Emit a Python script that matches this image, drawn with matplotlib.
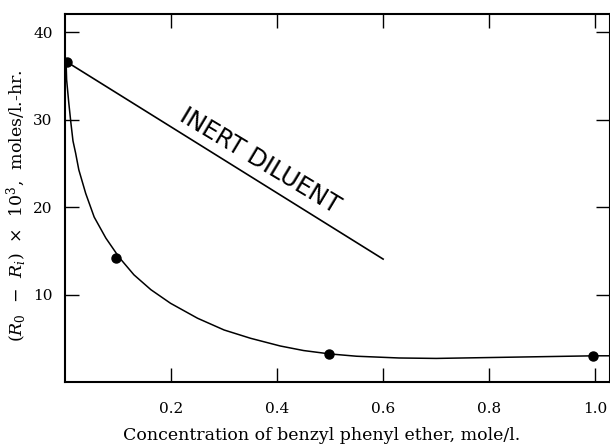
import matplotlib
matplotlib.use("Agg")
import matplotlib.pyplot as plt

# measured points
conc_points = [0.004, 0.096, 0.498, 0.996]
rate_points = [36.6, 14.2, 3.25, 3.05]

# hand-drawn curve through the points
curve_x = [0.002, 0.003, 0.007, 0.011, 0.015, 0.020, 0.026, 0.039, 0.055, 0.077,
           0.102, 0.130, 0.162, 0.199, 0.250, 0.300, 0.350, 0.406, 0.450, 0.500,
           0.550, 0.630, 0.700, 0.800, 0.900, 1.000, 1.028]
curve_y = [36.6, 34.6, 32.0, 29.7, 27.6, 26.2, 24.3, 21.6, 18.9, 16.5,
           14.3, 12.3, 10.6, 9.05, 7.34, 6.0, 5.05, 4.17, 3.65, 3.26,
           3.0, 2.8, 2.75, 2.85, 2.95, 3.05, 3.05]

# inert diluent line
inert_x = [0.004, 0.6]
inert_y = [36.6, 14.1]

xticks = [0.2, 0.4, 0.6, 0.8, 1.0]
xticklabels = ["0.2", "0.4", "0.6", "0.8", "1.0"]
yticks = [10, 20, 30, 40]
yticklabels = ["10", "20", "30", "40"]

plt.rcParams["font.family"] = "DejaVu Serif"
plt.rcParams["mathtext.fontset"] = "dejavuserif"

fig = plt.figure(figsize=(6.1, 4.46), dpi=100)
ax = fig.add_axes([0.1066, 0.1424, 0.8934, 0.8262])

ax.plot(curve_x, curve_y, color="black", lw=1.1)
ax.plot(inert_x, inert_y, color="black", lw=1.2)
ax.plot(conc_points, rate_points, "o", color="black", ms=6.5)

ax.text(0.368, 25.3, "INERT DILUENT", family="DejaVu Sans", fontsize=17.5,
        rotation=-31, rotation_mode="anchor", ha="center", va="center")

ax.set_xlim(0, 1.028)
ax.set_ylim(0, 42.1)
ax.set_xticks(xticks)
ax.set_xticklabels(xticklabels)
ax.set_yticks(yticks)
ax.set_yticklabels(yticklabels)
ax.tick_params(direction="in", length=10, width=1, top=True, right=True,
               labelsize=11)
ax.tick_params(axis="x", pad=14)
ax.tick_params(axis="y", pad=9)
for s in ax.spines.values():
    s.set_linewidth(1.5)

ax.set_xlabel("Concentration of benzyl phenyl ether, mole/l.", fontsize=12.5)
ax.xaxis.set_label_coords(0.47, -0.122)
ax.set_ylabel(r"($R_0$  $-$  $R_i$)  $\times$  10$^3$,  moles/l.-hr.", fontsize=12.5)
ax.yaxis.set_label_coords(-0.066, 0.48)

fig.savefig("out.png", dpi=100)
